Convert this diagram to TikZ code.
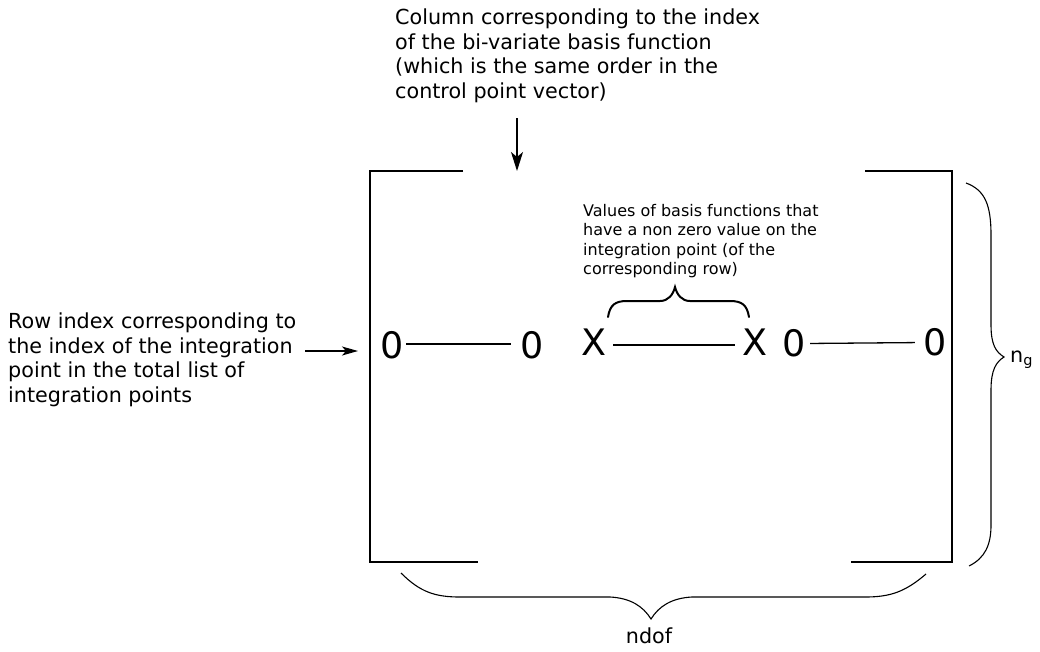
\documentclass[tikz,border=0pt]{standalone}
\usepackage{fontspec}
\setmainfont{DejaVu Sans}
\usetikzlibrary{arrows.meta}
\begin{document}
\begin{tikzpicture}[x=1pt,y=-1pt,
  txt/.style={inner sep=0pt, align=left, anchor=north west, font=\fontsize{20.7}{24.8}\selectfont},
  smalltxt/.style={inner sep=0pt, align=left, anchor=north west, font=\fontsize{16}{19.5}\selectfont},
  entry/.style={inner sep=0pt, font=\fontsize{36.5}{40}\selectfont},
  bracket/.style={line width=1.8pt},
  link/.style={line width=1.3pt},
  arr/.style={line width=1.4pt, -{Stealth[length=19pt,width=12pt,inset=5pt]}},
  arrsmall/.style={line width=1.3pt, -{Stealth[length=16pt,width=9pt,inset=4pt]}},
  thinbrace/.style={line width=1.1pt},
  thickbrace/.style={line width=2pt, line cap=round}]
\useasboundingbox (0,0) rectangle (1040,651);

% texts
\node[txt] (coltext) at (395,8.3) {Column corresponding to the index\\of the bi-variate basis function\\(which is the same order in the\\control point vector)};
\node[txt] (rowtext) at (8,312.3) {Row index corresponding to\\the index of the integration\\point in the total list of\\integration points};
\node[smalltxt] (valtext) at (583,203.8) {Values of basis functions that\\have a non zero value on the\\integration point (of the\\corresponding row)};
\node[inner sep=0pt, anchor=base west, font=\fontsize{20.7}{24.8}\selectfont] (ng) at (1010,362) {n\textsubscript{g}};
\node[inner sep=0pt, anchor=base, font=\fontsize{20.7}{24.8}\selectfont] (ndof) at (649,643) {ndof};

% matrix entries
\node[entry] (z1) at (392,345.5) {0};
\node[entry] (z2) at (532,345.5) {0};
\node[entry] (x1) at (593.5,342) {X};
\node[entry] (x2) at (755,342) {X};
\node[entry] (z3) at (794,343.5) {0};
\node[entry] (z4) at (935,342.5) {0};

\draw[link, shorten <=2.4pt, shorten >=9.4pt] ([yshift=1.5pt]z1.east) -- ([yshift=1.5pt]z2.west);
\draw[link, shorten <=7pt, shorten >=7.5pt] ([yshift=-3pt]x1.east) -- ([yshift=-3pt]x2.west);
\draw[link, shorten <=4.4pt, shorten >=8.4pt] (z3.east) -- (z4.west);

% brackets
\draw[bracket] (463,171) -- (370,171) -- (370,562) -- (478,562);
\draw[bracket] (865,171) -- (952,171) -- (952,562) -- (851,562);

% arrows
\coordinate (ca1) at (517,118);
\coordinate (ca2) at (517,171);
\draw[arr] (ca1) -- (ca2);
\coordinate (ra1) at (305,351);
\coordinate (ra2) at (358,351);
\draw[arrsmall] (ra1) -- (ra2);

% braces
\draw[thickbrace] (608,317) .. controls (610,305) and (615,301) .. (627,301) -- (660,301)
  .. controls (668,301) and (673,295) .. (675,287)
  .. controls (677,295) and (682,301) .. (690,301) -- (730,301)
  .. controls (742,301) and (747,305) .. (749,317);
\draw[thinbrace] (966,183) .. controls (985,190) and (991,205) .. (991,235) -- (991,325)
  .. controls (991,345) and (996,352) .. (1004,357)
  .. controls (996,362) and (991,370) .. (991,390) -- (991,525)
  .. controls (991,545) and (985,558) .. (969,566);
\draw[thinbrace] (401,573) .. controls (420,592) and (435,597) .. (460,597) -- (610,597)
  .. controls (630,598) and (643,606) .. (651,619)
  .. controls (659,606) and (672,598) .. (692,597) -- (865,597)
  .. controls (890,597) and (905,592) .. (926,574);
\end{tikzpicture}
\end{document}
